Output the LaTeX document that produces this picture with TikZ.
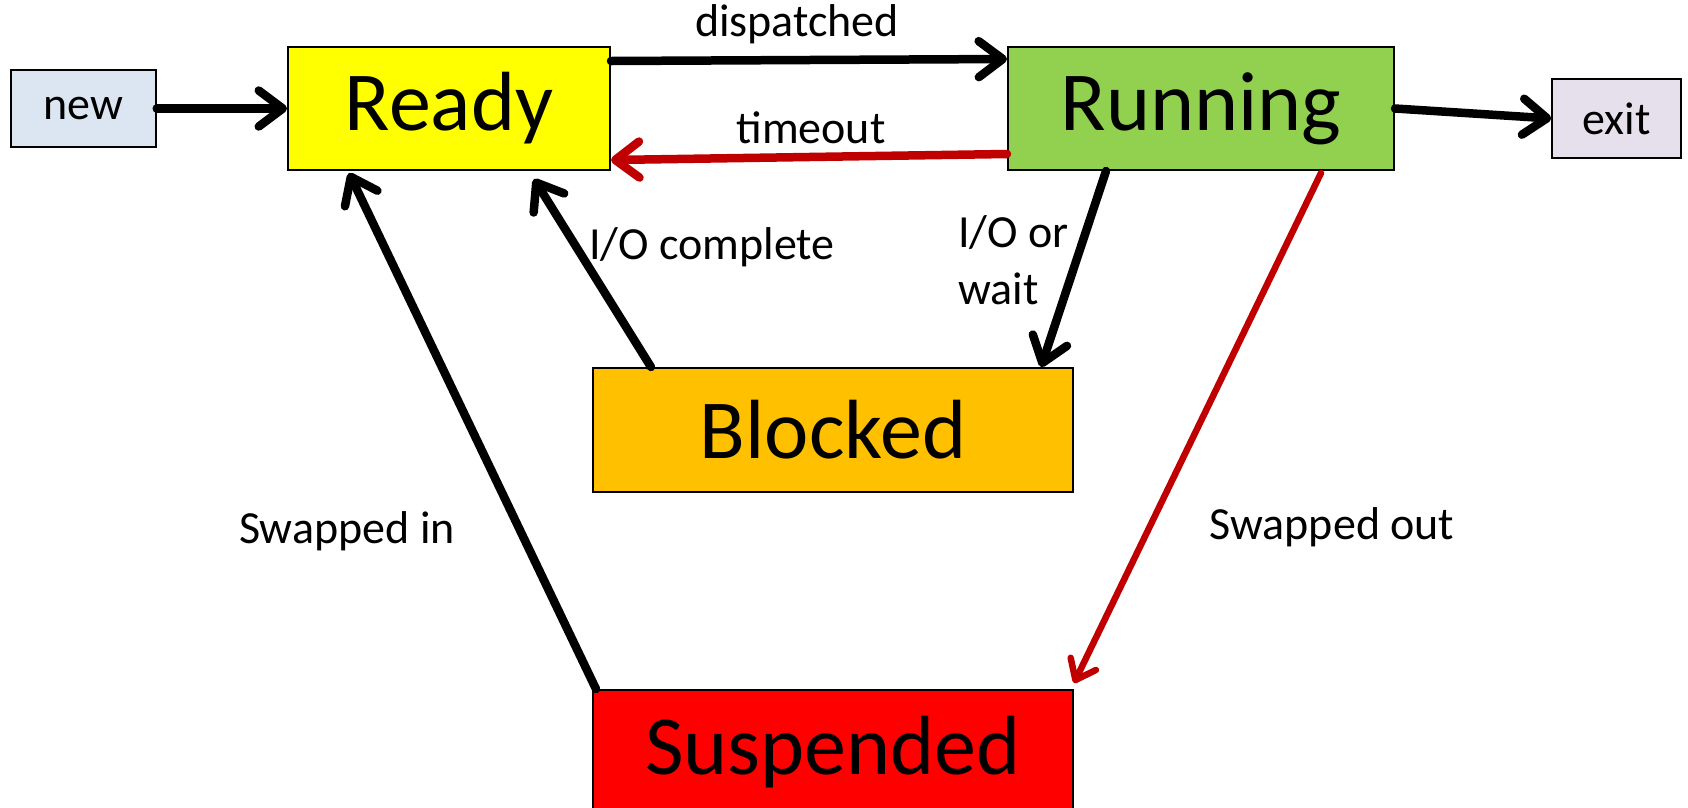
\documentclass[tikz,border=0pt]{standalone}
\usepackage{fontspec}
\setmainfont{Carlito}
\usetikzlibrary{arrows.meta}
\definecolor{newfill}{HTML}{DCE6F2}
\definecolor{exitfill}{HTML}{E6E0EC}
\definecolor{readyfill}{HTML}{FFFF00}
\definecolor{runfill}{HTML}{92D050}
\definecolor{blockfill}{HTML}{FFC000}
\definecolor{suspfill}{HTML}{FF0000}
\definecolor{darkred}{HTML}{C00000}
\tikzset{
  bigbox/.style={draw=black, line width=2pt, inner sep=0pt, font=\fontsize{84}{100}\selectfont},
  smallbox/.style={draw=black, line width=1.5pt, inner sep=0pt, font=\fontsize{46}{56}\selectfont},
  lbl/.style={inner sep=0pt, font=\fontsize{46}{57}\selectfont},
  arr/.style={line width=8.5pt, line cap=round, line join=round, -{Straight Barb[length=24pt,width=36pt,line cap=round,line join=round]}},
  redarr/.style={arr, draw=darkred},
  thinred/.style={line width=6.5pt, draw=darkred, line cap=round, -{Straight Barb[length=18pt,width=28pt,line cap=round,line join=round]}}
}
\begin{document}
\begin{tikzpicture}[x=1pt,y=-1pt]
\clip (0,0) rectangle (1688,807);
\fill[white] (0,0) rectangle (1688,807);
\node[smallbox, fill=newfill, minimum width=145pt, minimum height=77pt] (new) at (83.5,108.5) {new};
\node[bigbox, fill=readyfill, minimum width=322pt, minimum height=123pt] (ready) at (449,108.5) {Ready};
\node[bigbox, fill=runfill, minimum width=386pt, minimum height=123pt] (running) at (1201,108.5) {Running};
\node[smallbox, fill=exitfill, minimum width=129pt, minimum height=79pt] (exit) at (1616.5,118.5) {exit};
\node[bigbox, fill=blockfill, minimum width=480pt, minimum height=124pt] (blocked) at (833,430) {Blocked};
\node[bigbox, fill=suspfill, minimum width=480pt, minimum height=124pt] (susp) at (833,752) {Suspended};

\coordinate (dispS) at ([yshift=-15pt]ready.north east);
\coordinate (dispE) at ([yshift=-13pt]running.north west);
\coordinate (toS) at ([yshift=17pt]running.south west);
\coordinate (toE) at ([yshift=11pt]ready.south east);
\coordinate (iowS) at ([xshift=99pt]running.south west);
\coordinate (iowE) at ([xshift=-33pt]blocked.north east);
\coordinate (iocS) at ([xshift=59pt]blocked.north west);
\coordinate (iocE) at ([xshift=247pt,yshift=-8pt]ready.south west);
\coordinate (swiS) at ([xshift=4pt]susp.north west);
\coordinate (swiE) at ([xshift=62pt,yshift=-2pt]ready.south west);
\coordinate (swoS) at ([xshift=314pt,yshift=-2pt]running.south west);
\coordinate (swoE) at ([yshift=6pt]susp.north east);

\draw[arr] (new) -- (ready);
\draw[arr] (dispS) -- (dispE);
\draw[redarr] (toS) -- (toE);
\draw[arr] (running.east) -- (exit.west);
\draw[arr] (iowS) -- (iowE);
\draw[arr] (iocS) -- (iocE);
\draw[arr] (swiS) -- (swiE);
\draw[thinred] (swoS) -- (swoE);

\node[lbl] (ldisp) at (797,24) {dispatched};
\node[lbl] (lto) at (811,128) {timeout};
\node[lbl] (lioc) at (712,247) {I/O complete};
\node[lbl, align=left, anchor=west] (liow) at (958,260) {I/O or\\wait};
\node[lbl] (lswi) at (347,531) {Swapped in};
\node[lbl] (lswo) at (1332,527) {Swapped out};
\end{tikzpicture}
\end{document}
